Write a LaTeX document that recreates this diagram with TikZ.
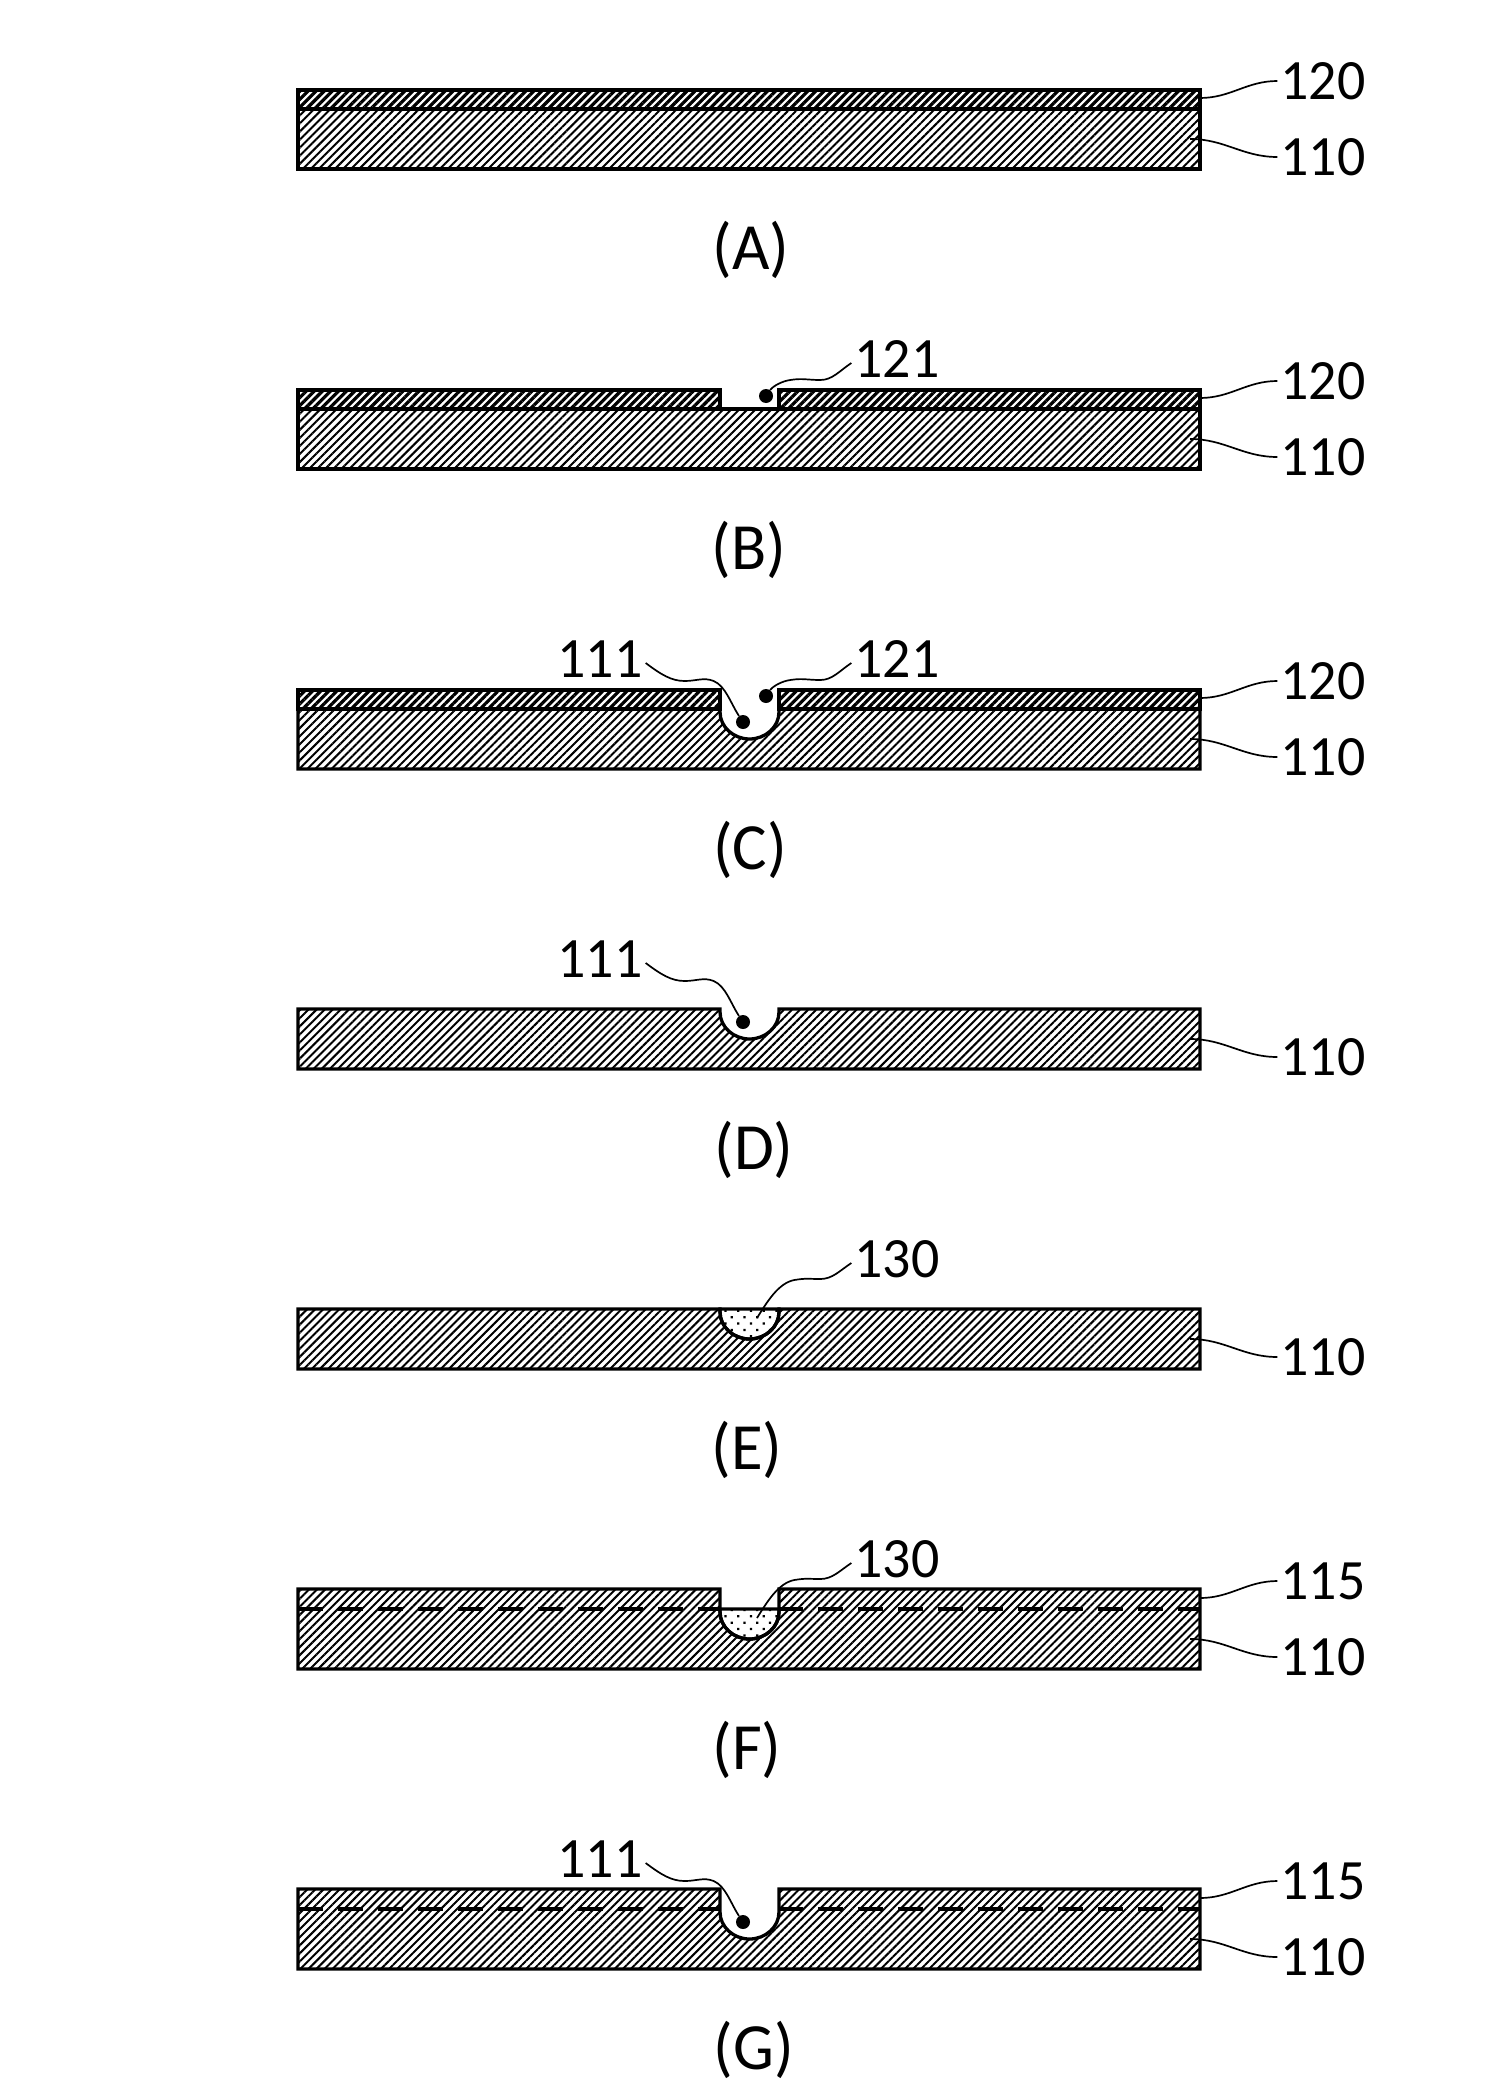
\documentclass[tikz,border=0pt]{standalone}
\usepackage{fontspec}
\setmainfont[FakeStretch=0.98]{Carlito}
\usetikzlibrary{patterns.meta}
\tikzstyle{substrate} = [draw, line width=3.3pt, line join=miter,
    pattern={Lines[angle=45, distance=5.7pt, line width=2pt]}]
\tikzstyle{film} = [draw, line width=3.3pt,
    pattern={Lines[angle=45, distance=5.7pt, line width=3.2pt]}]
\tikzstyle{filler} = [draw, line width=3.3pt,
    pattern={Dots[angle=45, distance=9pt, radius=1.6pt]}]
\tikzstyle{interface} = [line width=3.3pt, dash pattern=on 25pt off 15pt]
\tikzstyle{leader} = [line width=1.7pt]
\tikzstyle{pit} = [circle, fill, inner sep=0pt, minimum size=14pt]
\tikzstyle{refnum} = [inner sep=3pt, font=\fontsize{57}{60}\selectfont]
\tikzstyle{caption} = [inner sep=0pt, font=\fontsize{66}{70}\selectfont]
\tikzstyle{wiggle111} = [to path={.. controls +(16,12) and +(-13,0) .. ++(39,18)
    .. controls +(12,0) and +(-10,-4) .. ++(29,0) .. controls +(12,5) and +(-12,-18) .. (\tikztotarget)}]
\tikzstyle{wiggle121} = [to path={.. controls +(-12,8) and +(12,0) .. ++(-31,17)
    .. controls +(-13,0) and +(12,-2) .. ++(-30,0) .. controls +(-8,1) and +(7,-10) .. (\tikztotarget)}]
\tikzstyle{wiggle130} = [to path={.. controls +(-12,8) and +(12,0) .. ++(-31,16)
    .. controls +(-12,0) and +(12,-2) .. ++(-26,1) .. controls +(-16,3) and +(10,-16) .. (\tikztotarget)}]
% pit outline, from the left wall across to the right wall
\newcommand{\pitpath}{.. controls +(0,15) and +(-16,0) .. ++(29.5,27) .. controls +(16,0) and +(0,15) .. ++(29.5,-27)}

\begin{document}
\begin{tikzpicture}[x=1pt, y=-1pt]
    \useasboundingbox (0,0) rectangle (1500,2100);

    % Panel A
    \draw [substrate] (298,109) rectangle (1200,169);
    \draw [film] (298,90) rectangle (1200,109);
    \node [refnum, at={(1323,81)}] (numAfilm) {120};
    \node [refnum, at={(1323,157)}] (numAsub) {110};
    \node [caption, at={(751,250)}] (capA) {(A)};
    \coordinate (hitAfilm) at (1200,98);
    \coordinate (hitAsub) at (1190,139);

    % Panel B
    \draw [substrate] (298,409) rectangle (1200,469);
    \draw [film] (298,390) rectangle (720,409);
    \draw [film] (779,390) rectangle (1200,409);
    \node [pit, at={(766,396)}] (pitB) {};
    \node [refnum, at={(897,359)}] (numBhole) {121};
    \node [refnum, at={(1323,381)}] (numBfilm) {120};
    \node [refnum, at={(1323,457)}] (numBsub) {110};
    \node [caption, at={(749,550)}] (capB) {(B)};
    \coordinate (hitBfilm) at (1200,398);
    \coordinate (hitBsub) at (1190,439);

    % Panel C
    \draw [substrate] (298,709) -- (720,709) -- (720,712) \pitpath -- (779,709) -- (1200,709) -- (1200,769) -- (298,769) -- cycle;
    \draw [film] (298,690) rectangle (720,709);
    \draw [film] (779,690) rectangle (1200,709);
    \node [pit, at={(743,722)}] (pitCsub) {};
    \node [pit, at={(766,696)}] (pitCfilm) {};
    \node [refnum, at={(600,659)}] (numCpit) {111};
    \node [refnum, at={(897,659)}] (numChole) {121};
    \node [refnum, at={(1323,681)}] (numCfilm) {120};
    \node [refnum, at={(1323,757)}] (numCsub) {110};
    \node [caption, at={(750,850)}] (capC) {(C)};
    \coordinate (hitCfilm) at (1200,698);
    \coordinate (hitCsub) at (1190,739);

    % Panel D
    \draw [substrate] (298,1009) -- (720,1009) -- (720,1012) \pitpath -- (779,1009) -- (1200,1009) -- (1200,1069) -- (298,1069) -- cycle;
    \node [pit, at={(743,1022)}] (pitD) {};
    \node [refnum, at={(600,959)}] (numDpit) {111};
    \node [refnum, at={(1323,1057)}] (numDsub) {110};
    \node [caption, at={(754,1150)}] (capD) {(D)};
    \coordinate (hitDsub) at (1190,1039);

    % Panel E
    \draw [substrate] (298,1309) -- (720,1309) -- (720,1312) \pitpath -- (779,1309) -- (1200,1309) -- (1200,1369) -- (298,1369) -- cycle;
    \draw [filler] (720,1309) -- (720,1312) \pitpath -- (779,1309) -- cycle;
    \node [refnum, at={(897,1259)}] (numEfill) {130};
    \node [refnum, at={(1323,1357)}] (numEsub) {110};
    \node [caption, at={(747,1450)}] (capE) {(E)};
    \coordinate (hitEfill) at (757,1318);
    \coordinate (hitEsub) at (1190,1339);

    % Panel F
    \draw [substrate] (298,1589) -- (720,1589) -- (720,1612) \pitpath -- (779,1589) -- (1200,1589) -- (1200,1669) -- (298,1669) -- cycle;
    \draw [filler] (720,1609) -- (720,1612) \pitpath -- (779,1609) -- cycle;
    \draw [interface] (298,1609) -- (720,1609);
    \draw [interface] (778,1609) -- (1200,1609);
    \node [refnum, at={(897,1559)}] (numFfill) {130};
    \node [refnum, at={(1323,1581)}] (numFtop) {115};
    \node [refnum, at={(1323,1657)}] (numFsub) {110};
    \node [caption, at={(747,1750)}] (capF) {(F)};
    \coordinate (hitFfill) at (757,1618);
    \coordinate (hitFtop) at (1200,1598);
    \coordinate (hitFsub) at (1190,1639);

    % Panel G
    \draw [substrate] (298,1889) -- (720,1889) -- (720,1912) \pitpath -- (779,1889) -- (1200,1889) -- (1200,1969) -- (298,1969) -- cycle;
    \draw [interface] (298,1909) -- (720,1909);
    \draw [interface] (778,1909) -- (1200,1909);
    \node [pit, at={(743,1922)}] (pitG) {};
    \node [refnum, at={(600,1859)}] (numGpit) {111};
    \node [refnum, at={(1323,1881)}] (numGtop) {115};
    \node [refnum, at={(1323,1957)}] (numGsub) {110};
    \node [caption, at={(754,2050)}] (capG) {(G)};
    \coordinate (hitGtop) at (1200,1898);
    \coordinate (hitGsub) at (1190,1939);

    % Draw lines
    \draw [leader] (hitAfilm) to [out=0, in=180] (numAfilm.west);
    \draw [leader] (hitAsub) to [out=0, in=180] (numAsub.west);
    \draw [leader] (hitBfilm) to [out=0, in=180] (numBfilm.west);
    \draw [leader] (hitBsub) to [out=0, in=180] (numBsub.west);
    \draw [leader] (hitCfilm) to [out=0, in=180] (numCfilm.west);
    \draw [leader] (hitCsub) to [out=0, in=180] (numCsub.west);
    \draw [leader] (hitDsub) to [out=0, in=180] (numDsub.west);
    \draw [leader] (hitEsub) to [out=0, in=180] (numEsub.west);
    \draw [leader] (hitFtop) to [out=0, in=180] (numFtop.west);
    \draw [leader] (hitFsub) to [out=0, in=180] (numFsub.west);
    \draw [leader] (hitGtop) to [out=0, in=180] (numGtop.west);
    \draw [leader] (hitGsub) to [out=0, in=180] (numGsub.west);

    \draw [leader, wiggle121] ([yshift=-4pt]numBhole.west) to (pitB);
    \draw [leader, wiggle111] ([yshift=-4pt]numCpit.east) to (pitCsub);
    \draw [leader, wiggle121] ([yshift=-4pt]numChole.west) to (pitCfilm);
    \draw [leader, wiggle111] ([yshift=-4pt]numDpit.east) to (pitD);
    \draw [leader, wiggle130] ([yshift=-4pt]numEfill.west) to (hitEfill);
    \draw [leader, wiggle130] ([yshift=-4pt]numFfill.west) to (hitFfill);
    \draw [leader, wiggle111] ([yshift=-4pt]numGpit.east) to (pitG);
\end{tikzpicture}
\end{document}
